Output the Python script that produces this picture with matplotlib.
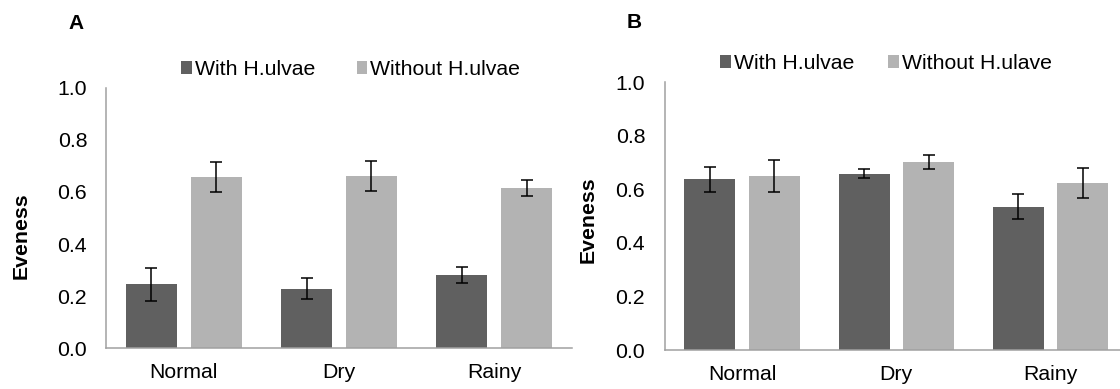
import matplotlib
matplotlib.use("Agg")
import matplotlib.pyplot as plt
import numpy as np

plt.rcParams['font.family'] = ['Liberation Sans', 'DejaVu Sans']

categories = ["Normal", "Dry", "Rainy"]

a_with = [0.245, 0.229, 0.282]
a_with_err = [0.065, 0.040, 0.031]
a_without = [0.656, 0.661, 0.616]
a_without_err = [0.057, 0.059, 0.030]

b_with = [0.638, 0.659, 0.535]
b_with_err = [0.047, 0.016, 0.047]
b_without = [0.650, 0.702, 0.623]
b_without_err = [0.059, 0.027, 0.055]

yticks = [0.0, 0.2, 0.4, 0.6, 0.8, 1.0]
ytick_labels = ["0.0", "0.2", "0.4", "0.6", "0.8", "1.0"]

legend_a = ["With H.ulvae", "Without H.ulvae"]
legend_b = ["With H.ulvae", "Without H.ulave"]

DARK = "#606060"
LIGHT = "#b3b3b3"
AXC = "#a0a0a0"
FS = 15.3

W, H = 1120, 389
fig = plt.figure(figsize=(W / 100, H / 100), dpi=100)


def px_axes(left, right, top, bottom):
    return fig.add_axes([left / W, 1 - bottom / H, (right - left) / W, (bottom - top) / H])


def draw(ax, with_v, with_e, without_v, without_e, labels, legx, legy, colsp, ypad):
    x = np.arange(len(categories))
    off = 0.209
    bw = 0.33
    ekw = dict(elinewidth=1.1, capthick=1.1, ecolor="black")
    b1 = ax.bar(x - off, with_v, bw, color=DARK, yerr=with_e, capsize=4, error_kw=ekw, label=labels[0])
    b2 = ax.bar(x + off, without_v, bw, color=LIGHT, yerr=without_e, capsize=4, error_kw=ekw, label=labels[1])
    ax.set_xlim(-0.5, len(categories) - 0.5)
    ax.set_ylim(0, 1.0)
    ax.set_yticks(yticks)
    ax.set_yticklabels(ytick_labels)
    ax.set_xticks(x)
    ax.set_xticklabels(categories)
    ax.tick_params(axis='both', length=0, labelsize=FS, colors="black")
    ax.tick_params(axis='y', pad=ypad)
    ax.tick_params(axis='x', pad=10.5)
    for s in ["top", "right"]:
        ax.spines[s].set_visible(False)
    for s in ["left", "bottom"]:
        ax.spines[s].set_color(AXC)
        ax.spines[s].set_linewidth(1.1)
    ax.set_facecolor("none")
    fig.legend(handles=[b1, b2], labels=labels, loc="center left",
               bbox_to_anchor=(legx / W, 1 - legy / H), bbox_transform=fig.transFigure,
               ncol=2, frameon=False, fontsize=FS, handlelength=0.5, handleheight=0.5,
               handletextpad=0.15, columnspacing=colsp, borderpad=0, borderaxespad=0)


axA = px_axes(106, 572, 87.7, 348.3)
draw(axA, a_with, a_with_err, a_without, a_without_err, legend_a, 181, 69.5, 1.95, 13.5)
axB = px_axes(665, 1127.6, 82.3, 350)
draw(axB, b_with, b_with_err, b_without, b_without_err, legend_b, 720, 63.5, 1.6, 14.3)

fig.text(20.7 / W, 1 - 235.5 / H, "Eveness", rotation=90, fontsize=FS, fontweight="bold",
         ha="center", va="center")
fig.text(588.5 / W, 1 - 220 / H, "Eveness", rotation=90, fontsize=FS, fontweight="bold",
         ha="center", va="center")
fig.text(76.5 / W, 1 - 23.3 / H, "A", fontsize=15, fontweight="bold", ha="center", va="center")
fig.text(634 / W, 1 - 22.5 / H, "B", fontsize=15, fontweight="bold", ha="center", va="center")

fig.savefig("out.png", dpi=100, facecolor="white")
